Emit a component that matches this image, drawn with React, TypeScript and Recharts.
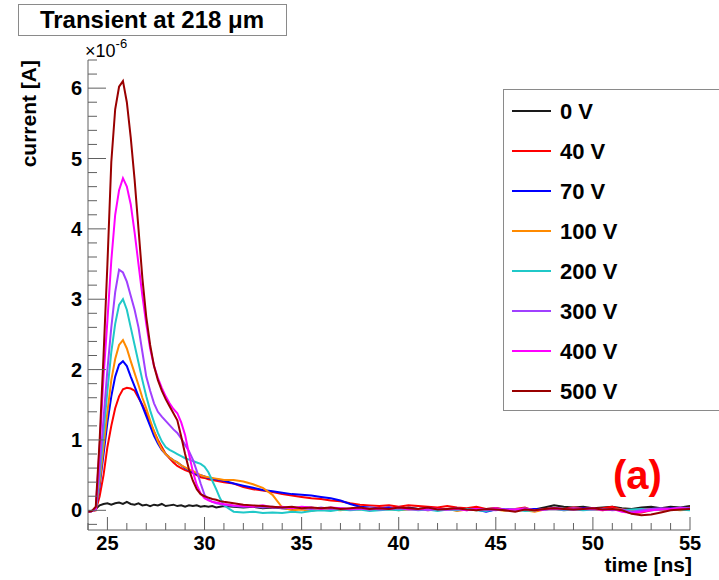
import React from 'react';
import { LineChart, Line, XAxis, YAxis } from 'recharts';

// time axis [ns]: fine steps around the pulse, coarser in the tail
const times = [
  24.0, 24.2, 24.4, 24.6, 24.8, 25.0, 25.2, 25.4, 25.6, 25.8,
  26.0, 26.2, 26.4, 26.6, 26.8, 27.0, 27.2, 27.4, 27.6, 27.8,
  28.0, 28.2, 28.4, 28.6, 28.8, 29.0, 29.2, 29.4, 29.6, 29.8,
  30.0, 30.2, 30.4, 30.6, 30.8, 31.0,
  31.5, 32, 32.5, 33, 33.5, 34, 34.5, 35, 35.5, 36, 36.5, 37, 37.5, 38,
  38.5, 39, 39.5, 40, 40.5, 41, 41.5, 42, 42.5, 43, 43.5, 44, 44.5, 45,
  45.5, 46, 46.5, 47, 47.5, 48, 48.5, 49, 49.5, 50, 50.5, 51, 51.5, 52,
  52.5, 53, 53.5, 54, 54.5, 55,
];

// current in units of 1e-6 A
const i0V = [
  -0.02, -0.01, 0.02, 0.07, 0.09, 0.1, 0.08, 0.1, 0.11, 0.09, 0.12, 0.09, 0.08, 0.1, 0.07, 0.08, 0.06, 0.08,
  0.07, 0.09, 0.06, 0.07, 0.08, 0.06, 0.07, 0.05, 0.07, 0.06, 0.07, 0.05, 0.06, 0.05, 0.06, 0.04, 0.05, 0.06,
  0.05, 0.04, 0.05, 0.03, 0.04, 0.03, 0.02, 0.04, 0.03, 0.02, 0.03, 0.01, 0.02, 0.03, 0.01, 0.02, 0.03, 0.02,
  0.04, 0.02, 0.03, 0.01, 0.02, 0.03, 0.02, 0.01, 0.02, 0.03, 0.01, -0.01, 0.02, 0.01, 0.04, 0.07, 0.05, 0.04,
  0.05, 0.03, 0.04, 0.05, 0.03, 0.02, 0.04, 0.05, 0.03, 0.05, 0.04, 0.06,
];
const i40V = [
  -0.02, -0.01, 0.0, 0.2, 0.5, 0.9, 1.2, 1.45, 1.62, 1.72, 1.74, 1.73, 1.7, 1.6, 1.5, 1.38, 1.25, 1.12,
  1.0, 0.9, 0.8, 0.74, 0.68, 0.63, 0.6, 0.57, 0.55, 0.53, 0.5, 0.47, 0.46, 0.44, 0.43, 0.42, 0.41, 0.4,
  0.38, 0.33, 0.3, 0.28, 0.26, 0.23, 0.21, 0.19, 0.17, 0.16, 0.14, 0.13, 0.1, 0.08, 0.07, 0.06, 0.07, 0.05,
  0.07, 0.06, 0.05, 0.04, 0.06, 0.04, 0.03, 0.05, 0.02, 0.03, 0.01, 0.02, 0.04, -0.01, 0.02, 0.03, 0.02, 0.04,
  0.03, 0.02, 0.03, 0.05, 0.01, -0.04, -0.03, 0.0, 0.02, 0.03, 0.02, 0.04,
];
const i70V = [
  -0.02, -0.01, 0.01, 0.35, 0.8, 1.25, 1.62, 1.9, 2.07, 2.12, 2.05, 1.9, 1.76, 1.62, 1.48, 1.34, 1.2, 1.06,
  0.95, 0.86, 0.8, 0.75, 0.71, 0.68, 0.64, 0.6, 0.57, 0.54, 0.51, 0.5, 0.48, 0.46, 0.45, 0.44, 0.43, 0.42,
  0.38, 0.35, 0.32, 0.29, 0.27, 0.25, 0.23, 0.22, 0.21, 0.19, 0.17, 0.14, 0.09, 0.05, 0.04, 0.03, 0.04, 0.02,
  0.03, 0.02, 0.03, 0.01, 0.02, 0.0, 0.02, 0.01, -0.02, 0.01, 0.02, 0.0, 0.01, 0.02, 0.01, 0.03, 0.02, 0.01,
  0.03, 0.02, 0.01, 0.02, 0.0, -0.02, 0.01, 0.02, 0.01, 0.03, 0.02, 0.03,
];
const i100V = [
  -0.02, -0.01, 0.01, 0.4, 0.9, 1.4, 1.85, 2.15, 2.35, 2.42, 2.3, 2.12, 1.95, 1.78, 1.6, 1.45, 1.28, 1.12,
  0.98, 0.87, 0.8, 0.75, 0.71, 0.68, 0.64, 0.61, 0.58, 0.56, 0.53, 0.5, 0.48, 0.47, 0.46, 0.45, 0.44, 0.43,
  0.43, 0.41, 0.37, 0.32, 0.22, 0.04, 0.0, 0.01, -0.01, 0.02, 0.01, 0.0, 0.02, 0.01, 0.03, 0.01, 0.02, 0.0,
  0.01, 0.02, 0.0, 0.01, 0.02, -0.01, 0.01, 0.0, 0.02, 0.01, -0.01, 0.01, 0.0, -0.02, 0.01, 0.02, 0.0, 0.01,
  0.02, 0.01, 0.0, 0.02, 0.01, 0.0, 0.01, 0.02, 0.0, 0.01, 0.0, 0.01,
];
const i200V = [
  -0.02, -0.01, 0.01, 0.5, 1.1, 1.7, 2.25, 2.65, 2.92, 3.0, 2.85, 2.6, 2.35, 2.1, 1.85, 1.62, 1.42, 1.25,
  1.1, 0.98, 0.9, 0.86, 0.83, 0.8, 0.77, 0.74, 0.72, 0.7, 0.68, 0.66, 0.62, 0.54, 0.42, 0.3, 0.17, 0.07,
  -0.02, -0.03, -0.02, -0.04, -0.03, -0.04, -0.02, -0.03, -0.01, 0.0, -0.01, 0.01, 0.0, 0.01, -0.01, 0.0, 0.01, 0.0,
  0.02, 0.0, 0.01, -0.01, 0.01, 0.0, 0.02, 0.0, -0.01, 0.01, 0.0, 0.01, -0.01, 0.0, 0.01, 0.02, 0.0, 0.01,
  0.0, 0.01, 0.02, 0.01, 0.0, 0.01, 0.02, 0.0, 0.01, 0.02, 0.01, 0.0,
];
const i300V = [
  -0.02, -0.01, 0.01, 0.6, 1.3, 2.0, 2.6, 3.1, 3.42, 3.38, 3.25, 3.05, 2.85, 2.6, 2.25, 1.9, 1.7, 1.52,
  1.4, 1.33, 1.27, 1.21, 1.15, 1.1, 1.02, 0.93, 0.84, 0.72, 0.56, 0.38, 0.22, 0.15, 0.12, 0.1, 0.09, 0.08,
  0.06, 0.05, 0.06, 0.04, 0.05, 0.03, 0.04, 0.03, 0.02, 0.04, 0.02, 0.03, 0.01, 0.02, 0.03, 0.01, 0.02, 0.03,
  0.01, 0.02, 0.0, 0.02, 0.01, 0.03, 0.0, 0.02, 0.01, 0.0, 0.02, 0.01, 0.03, 0.0, 0.01, 0.02, 0.01, 0.03,
  0.02, 0.01, 0.02, 0.0, 0.01, -0.02, 0.0, 0.02, 0.03, 0.02, 0.04, 0.03,
];
const i400V = [
  -0.02, -0.01, 0.02, 0.9, 1.9, 2.7, 3.55, 4.2, 4.55, 4.72, 4.6, 4.35, 3.95, 3.5, 3.05, 2.65, 2.3, 2.05,
  1.88, 1.74, 1.62, 1.52, 1.44, 1.38, 1.25, 1.07, 0.8, 0.55, 0.36, 0.24, 0.17, 0.14, 0.12, 0.11, 0.1, 0.09,
  0.07, 0.06, 0.05, 0.07, 0.04, 0.05, 0.03, 0.05, 0.04, 0.02, 0.04, 0.03, 0.02, 0.03, 0.01, 0.03, 0.02, 0.04,
  0.02, 0.01, 0.03, 0.02, 0.01, 0.02, 0.0, 0.02, 0.01, 0.03, 0.0, 0.01, 0.02, 0.0, 0.01, 0.03, 0.02, 0.01,
  0.02, 0.03, 0.0, 0.02, -0.02, -0.04, -0.02, 0.0, 0.01, 0.02, 0.03, 0.02,
];
const i500V = [
  -0.02, -0.01, 0.05, 1.0, 2.2, 3.5, 4.95, 5.7, 6.02, 6.1, 5.8, 5.3, 4.7, 4.0, 3.3, 2.75, 2.35, 2.05,
  1.85, 1.7, 1.58, 1.48, 1.38, 1.28, 1.05, 0.8, 0.58, 0.42, 0.3, 0.23, 0.2, 0.18, 0.16, 0.15, 0.13, 0.12,
  0.1, 0.08, 0.07, 0.06, 0.05, 0.04, 0.05, 0.03, 0.04, 0.03, 0.04, 0.02, 0.03, 0.04, 0.02, 0.03, 0.02, 0.04,
  0.03, 0.02, 0.04, 0.01, 0.02, 0.03, 0.01, 0.0, 0.02, 0.01, 0.0, -0.02, 0.01, 0.0, 0.02, 0.03, 0.02, 0.01,
  0.02, 0.03, 0.01, 0.02, 0.0, -0.05, -0.07, -0.06, -0.03, 0.0, 0.01, 0.02,
];

const biasLabels = ['0 V', '40 V', '70 V', '100 V', '200 V', '300 V', '400 V', '500 V'];
const seriesValues = [i0V, i40V, i70V, i100V, i200V, i300V, i400V, i500V];
const seriesColors = ['#1a1a1a', '#ff0000', '#0000ff', '#ff8a00', '#20c8c8', '#a040ff', '#ff00ff', '#990000'];

const xMajorTicks = [25, 30, 35, 40, 45, 50, 55];
const yMajorTicks = [0, 1, 2, 3, 4, 5, 6];
const xTicks = Array.from({ length: 32 }, (_, i) => 24 + i);
const yTicks = Array.from({ length: 34 }, (_, i) => (i - 1) / 5);

const rows = times.map((t, i) => {
  const row: { [key: string]: number } = { t };
  seriesValues.forEach((vals, s) => {
    row[`s${s}`] = vals[i];
  });
  return row;
});

const FONT = "'Liberation Sans', Arial, Helvetica, sans-serif";
const FRAME = '#606060';

const isMajor = (list: number[], v: number) => list.some((m) => Math.abs(m - v) < 1e-6);

const BottomTick = (props: any) => {
  const { x, y, payload } = props;
  const major = isMajor(xMajorTicks, payload.value);
  return (
    <g>
      <line x1={x} x2={x} y1={y} y2={y - (major ? 13 : 7)} stroke={FRAME} />
      {major && (
        <text x={x} y={y + 20} textAnchor="middle" fontSize={20} fontWeight="bold" fontFamily={FONT} fill="#000">
          {payload.value}
        </text>
      )}
    </g>
  );
};

const TopTick = (props: any) => {
  const { x, y, payload } = props;
  const major = isMajor(xMajorTicks, payload.value);
  return <line x1={x} x2={x} y1={y} y2={y + (major ? 13 : 7)} stroke={FRAME} />;
};

const LeftTick = (props: any) => {
  const { x, y, payload } = props;
  const major = isMajor(yMajorTicks, payload.value);
  return (
    <g>
      <line x1={x} x2={x + (major ? 18 : 9)} y1={y} y2={y} stroke={FRAME} />
      {major && (
        <text x={x - 6} y={y} dy="0.35em" textAnchor="end" fontSize={20} fontWeight="bold" fontFamily={FONT} fill="#000">
          {Math.round(payload.value)}
        </text>
      )}
    </g>
  );
};

const RightTick = (props: any) => {
  const { x, y, payload } = props;
  const major = isMajor(yMajorTicks, payload.value);
  return <line x1={x} x2={x - (major ? 18 : 9)} y1={y} y2={y} stroke={FRAME} />;
};

export default function App() {
  return (
    <div
      style={{
        position: 'absolute',
        left: 0,
        top: 0,
        width: 719,
        height: 580,
        overflow: 'hidden',
        background: '#fff',
        fontFamily: FONT,
      }}
    >
      <LineChart width={719} height={580} data={rows} margin={{ top: 60, right: 29, bottom: 20, left: 28 }}>
        <XAxis
          xAxisId="bottom"
          orientation="bottom"
          dataKey="t"
          type="number"
          domain={[24, 55]}
          allowDataOverflow
          ticks={xTicks}
          interval={0}
          tickSize={0}
          tickMargin={0}
          tickLine={false}
          axisLine={{ stroke: FRAME }}
          height={30}
          tick={BottomTick}
        />
        <XAxis
          xAxisId="top"
          orientation="top"
          dataKey="t"
          type="number"
          domain={[24, 55]}
          allowDataOverflow
          ticks={xTicks}
          interval={0}
          tickSize={0}
          tickMargin={0}
          tickLine={false}
          axisLine={{ stroke: FRAME }}
          height={0}
          tick={TopTick}
        />
        <YAxis
          yAxisId="left"
          orientation="left"
          type="number"
          domain={[-0.28, 6.4]}
          allowDataOverflow
          ticks={yTicks}
          interval={0}
          tickSize={0}
          tickMargin={0}
          tickLine={false}
          axisLine={{ stroke: FRAME }}
          width={60}
          tick={LeftTick}
        />
        <YAxis
          yAxisId="right"
          orientation="right"
          type="number"
          domain={[-0.28, 6.4]}
          allowDataOverflow
          ticks={yTicks}
          interval={0}
          tickSize={0}
          tickMargin={0}
          tickLine={false}
          axisLine={{ stroke: FRAME }}
          width={0}
          tick={RightTick}
        />
        {biasLabels.map((label, s) => (
          <Line
            key={label}
            xAxisId="bottom"
            yAxisId="left"
            type="linear"
            dataKey={`s${s}`}
            name={label}
            stroke={seriesColors[s]}
            strokeWidth={2}
            dot={false}
            isAnimationActive={false}
          />
        ))}
      </LineChart>

      <svg
        width={719}
        height={580}
        style={{ position: 'absolute', left: 0, top: 0, pointerEvents: 'none' }}
        fontFamily={FONT}
      >
        {/* title box */}
        <rect x={18.5} y={4.5} width={268} height={31} fill="#fff" stroke="#8a8a8a" />
        <text x={152} y={28} textAnchor="middle" fontSize={24} fontWeight="bold" fill="#000">
          Transient at 218 μm
        </text>

        {/* axis exponent and titles */}
        <text x={85} y={57} fontSize={18} fill="#000">
          ×10
          <tspan dy={-9} fontSize={13}>
            -6
          </tspan>
        </text>
        <text transform="translate(36,60) rotate(-90)" textAnchor="end" fontSize={21} fontWeight="bold" fill="#000">
          current [A]
        </text>
        <text x={692} y={572} textAnchor="end" fontSize={21} fontWeight="bold" fill="#000">
          time [ns]
        </text>
        <text x={613} y={489} fontSize={40} fontWeight="bold" fill="#ff0000">
          (a)
        </text>

        {/* legend */}
        <rect x={503.5} y={89.5} width={240} height={321} fill="#fff" stroke="#8a8a8a" />
        {biasLabels.map((label, s) => (
          <g key={label}>
            <line x1={512} x2={551} y1={111 + 40 * s} y2={111 + 40 * s} stroke={seriesColors[s]} strokeWidth={2} />
            <text x={560} y={111 + 40 * s} dy="0.35em" fontSize={22} fontWeight="bold" fill="#000">
              {label}
            </text>
          </g>
        ))}
      </svg>
    </div>
  );
}
